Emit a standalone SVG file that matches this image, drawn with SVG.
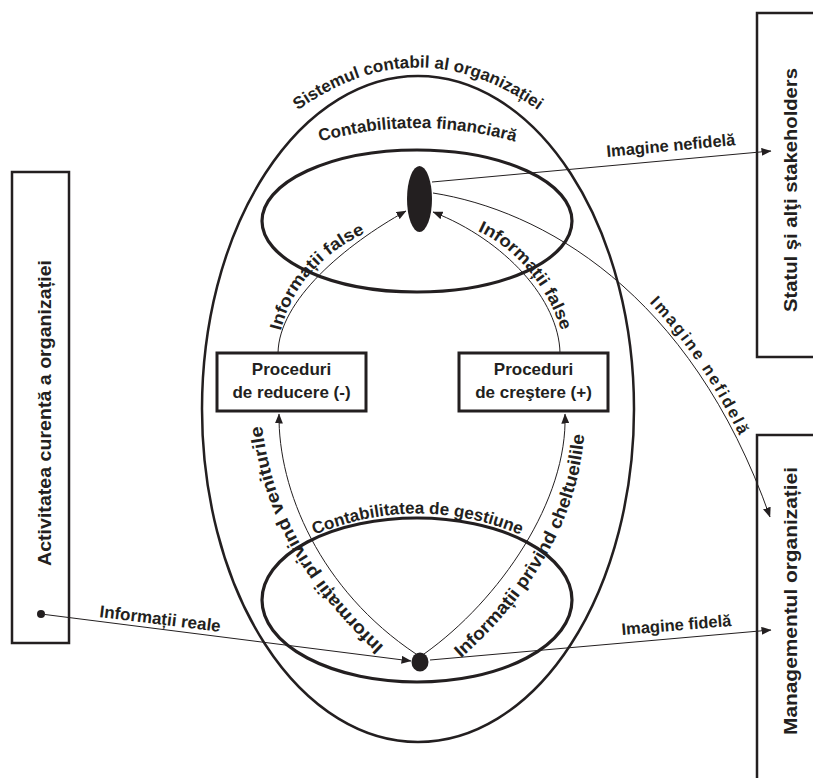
<svg xmlns="http://www.w3.org/2000/svg" width="813" height="778" viewBox="0 0 813 778">
<defs>
<style>
text { font-family: "Liberation Sans", Arial, sans-serif; font-weight: bold; fill: #231f20; }
.outer { fill: none; stroke: #231f20; stroke-width: 2.5; }
.inner { fill: none; stroke: #231f20; stroke-width: 3.2; }
.conn { fill: none; stroke: #231f20; stroke-width: 1; }
.box { fill: #fff; stroke: #231f20; stroke-width: 3; }
.side { fill: none; stroke: #231f20; stroke-width: 2.5; }
.dot { fill: #231f20; }
.lbl { font-size: 17px; }
.lbl18 { font-size: 18px; }
.img { font-size: 16.5px; }
.ttl { font-size: 17px; }
.sidel { font-size: 19px; }
</style>
<marker id="arr" markerWidth="10" markerHeight="8" refX="9.5" refY="4" orient="auto" markerUnits="userSpaceOnUse">
<path d="M0,0 L10,4 L0,8 z" fill="#231f20"/>
</marker>
<path id="tp-sys" d="M286,119 Q418,16 550,119"/>
<path id="tp-fin" d="M312,144 Q417,112 523,144"/>
<path id="tp-gest" d="M305,539 Q418,488 530,539"/>
<path id="tp-falseL" d="M280,334 C291,285 325,250 372,230"/>
<path id="tp-falseR" d="M473,229 C515,246 549,287 563,336"/>
<path id="tp-ven" d="M390,652 C320,588 272,520 261,418"/>
<path id="tp-chel" d="M458,661 C527,600 583,520 585,418"/>
<path id="tp-nef" d="M433,193 C540,205 690,285 768,517"/>
</defs>

<g id="sistem-contabil">
<ellipse class="outer" cx="418" cy="409" rx="216" ry="333"/>
<text class="ttl"><textPath href="#tp-sys" startOffset="50%" text-anchor="middle">Sistemul contabil al organizației</textPath></text>
</g>

<g id="contabilitatea-financiara">
<ellipse class="inner" cx="417" cy="221" rx="155" ry="71"/>
<text class="ttl"><textPath href="#tp-fin" startOffset="50%" text-anchor="middle">Contabilitatea financiară</textPath></text>
<ellipse id="punct-financiar" class="dot" cx="419.5" cy="199" rx="12.5" ry="33"/>
</g>

<g id="contabilitatea-de-gestiune">
<ellipse class="inner" cx="417" cy="600" rx="155" ry="82"/>
<text class="ttl"><textPath href="#tp-gest" startOffset="50%" text-anchor="middle">Contabilitatea de gestiune</textPath></text>
<ellipse id="punct-gestiune" class="dot" cx="420" cy="662" rx="8.5" ry="9.5"/>
</g>

<g id="activitatea-curenta">
<rect class="side" x="12" y="172" width="57" height="471"/>
<text class="sidel" transform="translate(51,413) rotate(-90)" text-anchor="middle" textLength="306" lengthAdjust="spacingAndGlyphs">Activitatea curentă a organizației</text>
<circle class="dot" cx="41" cy="614" r="4"/>
</g>

<g id="statul">
<path class="side" d="M820,13 H757 V357 H820"/>
<text class="sidel" transform="translate(797,190) rotate(-90)" text-anchor="middle" textLength="244" lengthAdjust="spacingAndGlyphs">Statul şi alţi stakeholders</text>
</g>

<g id="managementul">
<path class="side" d="M820,435 H757 V785"/>
<text class="sidel" transform="translate(797,601) rotate(-90)" text-anchor="middle" textLength="268" lengthAdjust="spacingAndGlyphs">Managementul organizației</text>
</g>

<g id="connectors">
<line class="conn" x1="45" y1="614.5" x2="411" y2="661" marker-end="url(#arr)"/>
<text class="lbl" transform="translate(99,617) rotate(7)">Informații reale</text>

<line class="conn" x1="430" y1="660" x2="771" y2="630" marker-end="url(#arr)"/>
<text class="img" transform="translate(622,635) rotate(-4.7)">Imagine fidelă</text>

<line class="conn" x1="432" y1="182" x2="771" y2="151" marker-end="url(#arr)"/>
<text class="img" transform="translate(607,157) rotate(-5.3)">Imagine nefidelă</text>

<path class="conn" d="M433,193 C540,210 690,290 770,517" marker-end="url(#arr)"/>
<text class="img" dy="-4"><textPath href="#tp-nef" startOffset="246" textLength="160" lengthAdjust="spacing">Imagine nefidelă</textPath></text>

<path class="conn" d="M278,353 C279,300 345,245 406,211" marker-end="url(#arr)"/>
<text class="lbl"><textPath href="#tp-falseL" startOffset="3" textLength="134" lengthAdjust="spacingAndGlyphs">Informații false</textPath></text>

<path class="conn" d="M560,353 C559,300 505,240 433,212" marker-end="url(#arr)"/>
<text class="lbl"><textPath href="#tp-falseR" startOffset="5" textLength="134" lengthAdjust="spacingAndGlyphs">Informații false</textPath></text>

<path class="conn" d="M416,654 C320,590 278,490 279,414" marker-end="url(#arr)"/>
<text class="lbl18"><textPath href="#tp-ven" startOffset="8" textLength="258" lengthAdjust="spacingAndGlyphs">Informații privind veniturile</textPath></text>

<path class="conn" d="M424,654 C500,600 568,500 565,414" marker-end="url(#arr)"/>
<text class="lbl18"><textPath href="#tp-chel" startOffset="4" textLength="262" lengthAdjust="spacingAndGlyphs">Informații privind cheltueilile</textPath></text>
</g>

<g id="proceduri-reducere">
<rect class="box" x="217" y="353" width="149" height="58"/>
<text class="lbl" x="291.5" y="375" text-anchor="middle">Proceduri</text>
<text class="lbl" x="291.5" y="398" text-anchor="middle">de reducere (-)</text>
</g>

<g id="proceduri-crestere">
<rect class="box" x="459" y="353" width="149" height="58"/>
<text class="lbl" x="533.5" y="375" text-anchor="middle">Proceduri</text>
<text class="lbl" x="533.5" y="398" text-anchor="middle">de creştere (+)</text>
</g>
</svg>
